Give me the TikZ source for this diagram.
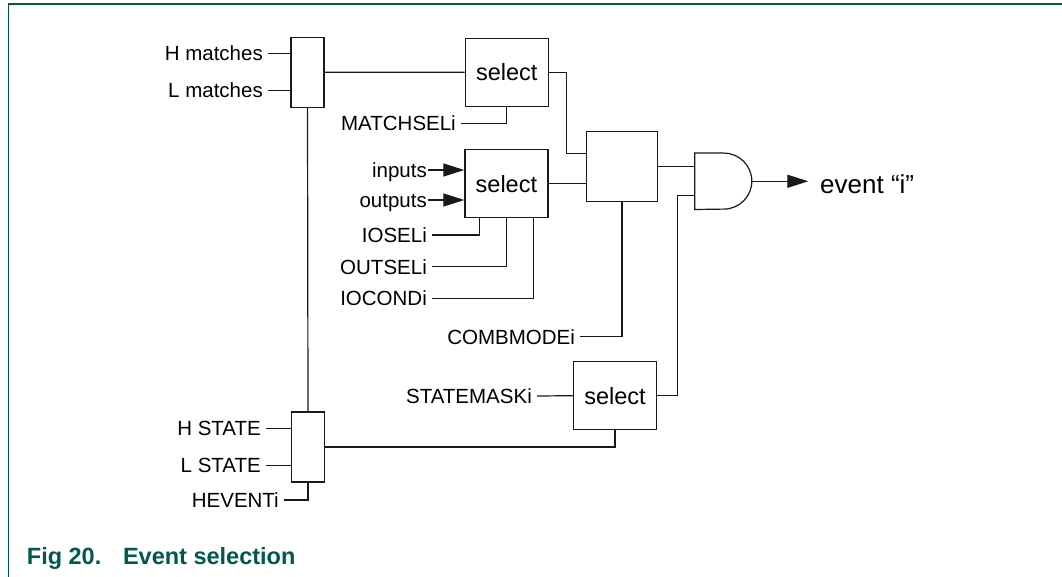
\documentclass[tikz,border=0pt]{standalone}
\usepackage{fontspec}
\setmainfont{Liberation Sans}
\usepackage{tikz}
\usetikzlibrary{arrows.meta}
\definecolor{figgreen}{HTML}{00594A}
\tikzset{wire/.style={draw=black!90, line width=1.2pt}}
\tikzset{head/.style={-{Triangle[length=21pt, width=13pt]}}}
\tikzset{muxbox/.style={wire, minimum width=33pt, minimum height=70pt, inner sep=0pt}}
\tikzset{selbox/.style={wire, minimum width=83pt, minimum height=68pt, inner sep=0pt, text height=16.8pt, text depth=0pt, font=\fontsize{23.5}{28}\selectfont}}
\tikzset{sig/.style={anchor=east, inner xsep=5pt, inner ysep=0pt, text height=14.7pt, text depth=0pt, font=\fontsize{20.5}{24}\selectfont}}

\begin{document}
\begin{tikzpicture}[x=1pt, y=-1pt]
            \useasboundingbox (0,0) rectangle (1062,577);
            \draw[figgreen, line width=1.3pt] (1062,4) -- (8.3,4) -- (8.3,577);
            % blocks
            \node[muxbox] (mux1) at (307.5,72.3) {};
            \node[muxbox] (mux2) at (308,447) {};
            \node[selbox] (sel1) at (506.7,72.2) {select};
            \node[selbox] (sel2) at (506.4,183.7) {select};
            \node[selbox] (sel3) at (615,395.7) {select};
            \node[wire, minimum width=70.6pt, minimum height=70pt, inner sep=0pt] (comb) at (622,166.7) {};
            \node[minimum width=57pt, minimum height=56pt, inner sep=0pt] (gate) at (723.5,181.3) {};
            \draw[wire] (gate.north west) -- ([xshift=29pt]gate.north west) arc [start angle=90, end angle=-90, radius=28pt] -- (gate.south west) -- cycle;
            % signal names
            \node[sig] (hmatch) at (268,53.3) {H matches};
            \node[sig] (lmatch) at (268,90.3) {L matches};
            \node[sig] (msel) at (461,123.3) {MATCHSELi};
            \node[sig, inner xsep=1pt] (inp) at (428,170) {inputs};
            \node[sig, inner xsep=1pt] (outp) at (428,200) {outputs};
            \node[sig] (iosel) at (432,235) {IOSELi};
            \node[sig] (outsel) at (432,266.7) {OUTSELi};
            \node[sig] (iocond) at (432,298.3) {IOCONDi};
            \node[sig] (cmode) at (580,336.7) {COMBMODEi};
            \node[sig] (smask) at (537,396) {STATEMASKi};
            \node[sig] (hstate) at (266,428.3) {H STATE};
            \node[sig] (lstate) at (266,465.3) {L STATE};
            \node[sig] (hevent) at (284,500) {HEVENTi};
            \node[anchor=west, inner xsep=11.7pt, inner ysep=0pt, text height=18.6pt, text depth=0pt, font=\fontsize{26}{30}\selectfont] (event) at (808.3,184) {event “i”};
            % wires
            \foreach \s in {hmatch, lmatch} {
                \draw[wire] (\s.east) -- (\s.east -| mux1.west);
            }
            \foreach \s in {hstate, lstate} {
                \draw[wire] (\s.east) -- (\s.east -| mux2.west);
            }
            \foreach \s in {inp, outp} {
                \draw[wire, head] (\s.east) -- (\s.east -| sel2.west);
            }
            \foreach \s/\dx in {iosel/-27, outsel/0, iocond/27} {
                \draw[wire] (\s.east) -| ([xshift=\dx pt]sel2.south);
            }
            \draw[wire] (mux1.east) -- (sel1.west);
            \draw[wire] (mux1.south) -- (mux2.north);
            \draw[wire] (msel.east) -| (sel1.south);
            \draw[wire] (hevent.east) -| (mux2.south);
            \draw[wire] (mux2.east) -| (sel3.south);
            \draw[wire] (smask.east) -- (sel3.west);
            \draw[wire] (cmode.east) -| (comb.south);
            \draw[wire] (sel1.east) -- ++(18,0) |- ([yshift=13.4pt]comb.west);
            \draw[wire] (sel2.east) -- (sel2.east -| comb.west);
            \draw[wire] (comb.east) -- (comb.east -| gate.west);
            \draw[wire] (sel3.east) -- ++(20,0) |- ([yshift=-14pt]gate.west);
            \draw[wire, head] (gate.east) -- (gate.east -| event.west);
            % caption
            \node[anchor=base west, inner sep=0pt, text=figgreen, font=\bfseries\fontsize{23.5}{28}\selectfont] (caption) at (26.7,564.3) {Fig 20.\hspace{21.7pt}Event selection};
        \end{tikzpicture}
\end{document}
